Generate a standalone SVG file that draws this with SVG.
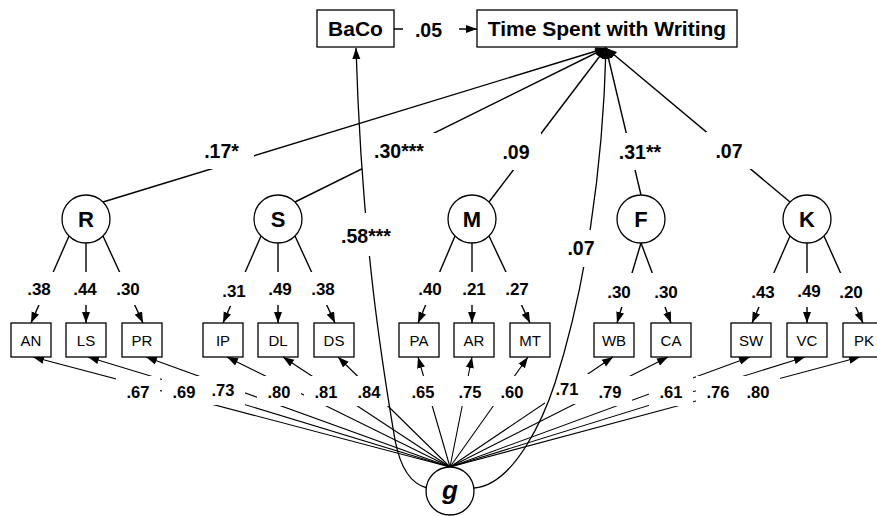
<svg xmlns="http://www.w3.org/2000/svg" width="877" height="516" viewBox="0 0 877 516">
<defs>
<marker id="ah" markerUnits="userSpaceOnUse" markerWidth="12" markerHeight="9" refX="11" refY="4.5" orient="auto" viewBox="0 0 12 9"><path d="M0,0.5 L11,4.5 L0,8.5 Z" fill="#000"/></marker>
<style>
.ln{stroke:#000;stroke-width:1.4;fill:none}
.gl{stroke:#000;stroke-width:1.1;fill:none}
.cv{stroke:#000;stroke-width:1.3;fill:none}
.bg{fill:#fff;stroke:none}
.box{fill:#fff;stroke:#000;stroke-width:1.3}
.lat{fill:#fff;stroke:#000;stroke-width:1.3}
text{font-family:"Liberation Sans",Arial,Helvetica,sans-serif;fill:#000;text-anchor:middle}
.tl{font-size:21px;font-weight:bold}
.fl{font-size:22px;font-weight:bold}
.sl{font-size:19.5px;font-weight:bold}
.ll{font-size:17px;font-weight:bold}
.gll{font-size:16.5px;font-weight:bold}
.ml{font-size:15px}
.gl2{font-size:26px;font-weight:bold;font-style:italic}
</style>
</defs>

<g id="connectors">
  <!-- structural paths to outcome -->
  <g class="ln" marker-end="url(#ah)">
    <line x1="103" y1="202" x2="606" y2="48"/>
    <line x1="295" y1="202" x2="606" y2="48"/>
    <line x1="489" y1="202" x2="606" y2="48"/>
    <line x1="641" y1="195" x2="606" y2="48"/>
    <line x1="790" y1="202" x2="606" y2="48"/>
    <line x1="394" y1="29" x2="477" y2="29"/>
  </g>
  <!-- specific factor loadings -->
  <g class="ln" marker-end="url(#ah)">
    <line x1="69" y1="236" x2="31" y2="323"/>
    <line x1="86" y1="243" x2="86" y2="323"/>
    <line x1="103" y1="236" x2="143" y2="323"/>
    <line x1="261" y1="236" x2="223" y2="323"/>
    <line x1="278" y1="243" x2="278" y2="323"/>
    <line x1="295" y1="236" x2="335" y2="323"/>
    <line x1="455" y1="236" x2="418" y2="323"/>
    <line x1="472" y1="243" x2="472" y2="323"/>
    <line x1="489" y1="236" x2="530" y2="323"/>
    <line x1="641" y1="243" x2="617" y2="323"/>
    <line x1="641" y1="243" x2="671" y2="323"/>
    <line x1="790" y1="236" x2="752" y2="323"/>
    <line x1="807" y1="243" x2="807" y2="323"/>
    <line x1="824" y1="236" x2="863" y2="323"/>
  </g>
  <!-- g loadings -->
  <g class="gl" marker-end="url(#ah)">
    <line x1="450" y1="467" x2="33" y2="357"/>
    <line x1="450" y1="467" x2="88" y2="357"/>
    <line x1="450" y1="467" x2="146" y2="357"/>
    <line x1="450" y1="467" x2="227" y2="357"/>
    <line x1="450" y1="467" x2="283" y2="357"/>
    <line x1="450" y1="467" x2="338" y2="357"/>
    <line x1="450" y1="467" x2="418" y2="357"/>
    <line x1="450" y1="467" x2="472" y2="357"/>
    <line x1="450" y1="467" x2="528" y2="357"/>
    <line x1="450" y1="467" x2="613" y2="357"/>
    <line x1="450" y1="467" x2="668" y2="357"/>
    <line x1="450" y1="467" x2="750" y2="357"/>
    <line x1="450" y1="467" x2="805" y2="357"/>
    <line x1="450" y1="467" x2="860" y2="357"/>
  </g>

  <!-- structural labels -->
  <rect class="bg" x="403" y="15" width="56" height="28"/>
  <text class="sl" x="428.5" y="36.5">.05</text>
  <rect class="bg" x="198" y="133" width="56" height="36"/>
  <rect class="bg" x="362" y="133" width="78" height="36"/>
  <rect class="bg" x="493" y="133" width="48" height="37"/>
  <rect class="bg" x="612" y="133" width="56" height="37"/>
  <rect class="bg" x="706" y="132" width="46" height="37"/>
  <text class="sl" x="221.5" y="158">.17*</text>
  <text class="sl" x="399" y="158">.30***</text>
  <text class="sl" x="516" y="158.5">.09</text>
  <text class="sl" x="640" y="158.5">.31**</text>
  <text class="sl" x="729" y="158">.07</text>

  <!-- specific loading labels -->
  <g class="bg">
    <rect x="22" y="272" width="34" height="33"/>
    <rect x="68" y="272" width="34" height="33"/>
    <rect x="111" y="272" width="34" height="33"/>
    <rect x="217" y="272" width="34" height="34"/>
    <rect x="263" y="272" width="34" height="33"/>
    <rect x="306" y="272" width="34" height="33"/>
    <rect x="413" y="272" width="34" height="33"/>
    <rect x="457" y="272" width="34" height="33"/>
    <rect x="500" y="272" width="34" height="33"/>
    <rect x="602" y="273" width="34" height="34"/>
    <rect x="649" y="273" width="34" height="34"/>
    <rect x="746" y="273" width="34" height="34"/>
    <rect x="792" y="273" width="34" height="34"/>
    <rect x="834" y="273" width="34" height="34"/>
  </g>
  <text class="ll" x="39" y="295">.38</text>
  <text class="ll" x="85" y="295">.44</text>
  <text class="ll" x="128" y="295">.30</text>
  <text class="ll" x="234" y="297">.31</text>
  <text class="ll" x="280" y="295">.49</text>
  <text class="ll" x="323" y="295">.38</text>
  <text class="ll" x="430" y="295">.40</text>
  <text class="ll" x="474" y="295">.21</text>
  <text class="ll" x="517" y="295">.27</text>
  <text class="ll" x="619" y="298">.30</text>
  <text class="ll" x="666" y="298">.30</text>
  <text class="ll" x="763" y="298">.43</text>
  <text class="ll" x="809" y="297">.49</text>
  <text class="ll" x="851" y="298">.20</text>

  <!-- g loading labels -->
  <g class="bg">
    <rect x="116" y="376" width="44" height="30"/>
    <rect x="162" y="376" width="44" height="30"/>
    <rect x="201" y="375" width="44" height="30"/>
    <rect x="257" y="376" width="44" height="30"/>
    <rect x="304" y="376" width="44" height="30"/>
    <rect x="347" y="376" width="44" height="30"/>
    <rect x="401" y="376" width="44" height="30"/>
    <rect x="448" y="376" width="44" height="30"/>
    <rect x="490" y="376" width="44" height="30"/>
    <rect x="545" y="374" width="44" height="30"/>
    <rect x="588" y="376" width="44" height="30"/>
    <rect x="649" y="376" width="44" height="30"/>
    <rect x="696" y="376" width="44" height="30"/>
    <rect x="736" y="376" width="44" height="30"/>
  </g>
  <text class="gll" x="138" y="398">.67</text>
  <text class="gll" x="184" y="398">.69</text>
  <text class="gll" x="223" y="396">.73</text>
  <text class="gll" x="279" y="398">.80</text>
  <text class="gll" x="326" y="398">.81</text>
  <text class="gll" x="369" y="398">.84</text>
  <text class="gll" x="423" y="398">.65</text>
  <text class="gll" x="470" y="398">.75</text>
  <text class="gll" x="512" y="398">.60</text>
  <text class="gll" x="567" y="395">.71</text>
  <text class="gll" x="610" y="398">.79</text>
  <text class="gll" x="671" y="398">.61</text>
  <text class="gll" x="718" y="398">.76</text>
  <text class="gll" x="758" y="398">.80</text>

  <!-- g to BaCo and g to outcome curves -->
  <path class="cv" marker-end="url(#ah)" d="M427,488 Q403,482 395,440 C385,380 362,250 356,48"/>
  <path class="cv" marker-end="url(#ah)" d="M474,488 C515,485 545,414 555,383 C585,290 603,170 606,48"/>
  <rect class="bg" x="338" y="213" width="56" height="43"/>
  <text class="sl" x="366" y="243">.58***</text>
  <rect class="bg" x="566" y="230" width="31" height="37"/>
  <text class="sl" x="581" y="255">.07</text>
</g>

<g id="node-BaCo"><rect class="box" x="317" y="10" width="77" height="37"/><text class="tl" x="355.5" y="35.5">BaCo</text></g>
<g id="node-Time"><rect class="box" x="477" y="10" width="260" height="37"/><text class="tl" x="607" y="35.5">Time Spent with Writing</text></g>

<g id="node-R"><circle class="lat" cx="86" cy="219" r="24"/><text class="fl" x="86" y="227">R</text></g>
<g id="node-S"><circle class="lat" cx="278" cy="219" r="24"/><text class="fl" x="278" y="227">S</text></g>
<g id="node-M"><circle class="lat" cx="472" cy="219" r="24"/><text class="fl" x="472" y="227">M</text></g>
<g id="node-F"><circle class="lat" cx="641" cy="219" r="24"/><text class="fl" x="641" y="227">F</text></g>
<g id="node-K"><circle class="lat" cx="807" cy="219" r="24"/><text class="fl" x="807" y="227">K</text></g>
<g id="node-g"><circle class="lat" cx="450" cy="491" r="24"/><text class="gl2" x="450" y="499">g</text></g>

<g id="node-AN"><rect class="box" x="11" y="323" width="40" height="34"/><text class="ml" x="31" y="346">AN</text></g>
<g id="node-LS"><rect class="box" x="66" y="323" width="40" height="34"/><text class="ml" x="86" y="346">LS</text></g>
<g id="node-PR"><rect class="box" x="122" y="323" width="40" height="34"/><text class="ml" x="142" y="346">PR</text></g>
<g id="node-IP"><rect class="box" x="203" y="323" width="40" height="34"/><text class="ml" x="223" y="346">IP</text></g>
<g id="node-DL"><rect class="box" x="258" y="323" width="40" height="34"/><text class="ml" x="278" y="346">DL</text></g>
<g id="node-DS"><rect class="box" x="314" y="323" width="40" height="34"/><text class="ml" x="334" y="346">DS</text></g>
<g id="node-PA"><rect class="box" x="399" y="323" width="40" height="34"/><text class="ml" x="419" y="346">PA</text></g>
<g id="node-AR"><rect class="box" x="454" y="323" width="40" height="34"/><text class="ml" x="474" y="346">AR</text></g>
<g id="node-MT"><rect class="box" x="510" y="323" width="40" height="34"/><text class="ml" x="530" y="346">MT</text></g>
<g id="node-WB"><rect class="box" x="594" y="323" width="40" height="34"/><text class="ml" x="614" y="346">WB</text></g>
<g id="node-CA"><rect class="box" x="651" y="323" width="40" height="34"/><text class="ml" x="671" y="346">CA</text></g>
<g id="node-SW"><rect class="box" x="731" y="323" width="40" height="34"/><text class="ml" x="751" y="346">SW</text></g>
<g id="node-VC"><rect class="box" x="787" y="323" width="40" height="34"/><text class="ml" x="807" y="346">VC</text></g>
<g id="node-PK"><rect class="box" x="843" y="323" width="40" height="34"/><text class="ml" x="864" y="346">PK</text></g>
</svg>
